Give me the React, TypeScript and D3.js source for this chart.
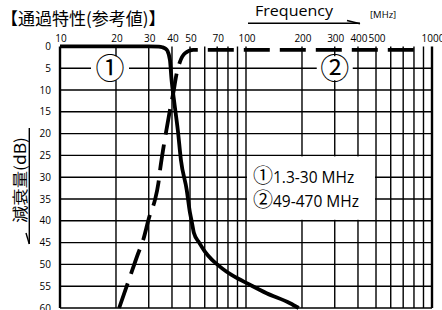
import React from "react";
import * as d3 from "d3";

const xTickValues = [10, 20, 30, 40, 50, 70, 100, 200, 300, 400, 500, 1000];
const xGridValues = [10, 20, 30, 40, 50, 60, 70, 80, 90, 100, 200, 300, 400, 500, 600, 700, 800, 900, 1000];
const yTickValues = [0, 5, 10, 15, 20, 25, 30, 35, 40, 45, 50, 55, 60];

// ① low-pass (solid)
const lowPassFreq = [10, 30, 34, 35.5, 36.8, 37.8, 39, 39.8, 41, 43, 44.7, 48, 50, 51, 52.5, 56, 60, 65.5, 70, 78.7, 91, 101, 129, 172.5, 192];
const lowPassDb = [0, 0, 0.05, 0.2, 0.5, 1.0, 3.1, 7.7, 12.3, 19.2, 26.1, 32.9, 38.2, 40, 42.8, 45, 47, 48.9, 50, 51.7, 53.3, 54.3, 56.6, 58.9, 60];

// ② high-pass (dashed)
const highPassFreq = [20.8, 23.8, 26.3, 28, 30.2, 32.4, 33.8, 34.6, 35.9, 37.4, 39, 40.6, 42.4, 44.2, 46.9, 52, 60, 820];
const highPassDb = [60, 52.8, 47.5, 44.4, 39.1, 35.2, 31.4, 28, 23.5, 19, 14.6, 10.8, 6.2, 3.5, 1.6, 0.8, 0.8, 0.8];

const legendLines = ["1.3-30 MHz", "49-470 MHz"];
const markers = ["①", "②"];

const W = 442;
const H = 310;

export default function App() {
  const x = d3.scaleLog().domain([10, 1000]).range([60, 432]);
  const y = d3.scaleLinear().domain([0, 60]).range([46.4, 308]);

  const line = d3
    .line<[number, number]>()
    .x((d) => x(d[0]))
    .y((d) => y(d[1]))
    .curve(d3.curveMonotoneX);

  const lowPts = lowPassFreq.map((f, i) => [f, lowPassDb[i]] as [number, number]);
  const highPts = highPassFreq.map((f, i) => [f, highPassDb[i]] as [number, number]);

  const font = "'Open Sans', 'Noto Sans', sans-serif";
  const cjk = "'Noto Sans CJK JP', sans-serif";
  const gridStroke = "#000";
  const gw = 1.4;

  const m1x = 110, m1y = y(5);
  const m2x = x(300), m2y = y(5);

  return (
    <svg width={W} height={H} style={{ position: "absolute", left: 0, top: 0, background: "#fff" }}>
      <rect x={0} y={0} width={W} height={H} fill="#fff" />
      {/* title */}
      <text x={1} y={25} fontFamily={cjk} fontSize={17} fontWeight={400} fill="#000">【通過特性(参考値)】</text>
      <text x={255} y={16} fontFamily={font} fontSize={15} fill="#000" textLength={78} lengthAdjust="spacingAndGlyphs">Frequency</text>
      <text x={370} y={18} fontFamily={font} fontSize={9.5} fill="#000">[MHz]</text>
      <line x1={248} y1={23.3} x2={360} y2={23.3} stroke="#000" strokeWidth={1.4} />
      <line x1={347} y1={20.5} x2={360} y2={23.8} stroke="#000" strokeWidth={1.4} />

      {/* y label */}
      <text transform="translate(26,180) rotate(-90)" textAnchor="middle" fontFamily={cjk} fontSize={15.5}
        textLength={86} lengthAdjust="spacingAndGlyphs" fill="#000">減衰量(dB)</text>
      <line x1={29.3} y1={128} x2={29.3} y2={244} stroke="#000" strokeWidth={1.4} />
      <line x1={26} y1={233} x2={29.3} y2={244} stroke="#000" strokeWidth={1.4} />

      {/* grid */}
      {yTickValues.filter((v) => v > 0).map((v) => (
        <line key={"h" + v} x1={x(10)} x2={x(1000)} y1={y(v)} y2={y(v)} stroke={gridStroke} strokeWidth={gw} />
      ))}
      {xGridValues.map((v) => (
        <line key={"v" + v} x1={x(v)} x2={x(v)} y1={y(0)} y2={y(60)} stroke={gridStroke}
          strokeWidth={v === 10 || v === 1000 ? 2.4 : gw} />
      ))}

      {/* tick labels */}
      {xTickValues.map((v) => (
        <text key={"xt" + v} x={x(v) + 1} y={41.5} textAnchor="middle" fontFamily={font} fontSize={10} fill="#000">{v}</text>
      ))}
      {yTickValues.map((v) => (
        <text key={"yt" + v} x={51} y={y(v)} dy="0.35em" textAnchor="end" fontFamily={font} fontSize={10} fill="#000">{v}</text>
      ))}

      {/* in-plot markers */}
      <rect x={m1x - 19} y={m1y - 12} width={38} height={24} fill="#fff" />
      <text x={m1x} y={m1y} dy="0.36em" textAnchor="middle" fontFamily={cjk} fontSize={29} fill="#000">{markers[0]}</text>
      <rect x={m2x - 18} y={m2y - 12} width={36} height={24} fill="#fff" />
      <text x={m2x} y={m2y} dy="0.36em" textAnchor="middle" fontFamily={cjk} fontSize={29} fill="#000">{markers[1]}</text>

      {/* legend box */}
      <rect x={x(100) + 1} y={y(25) + 1} width={x(500) - x(100) - 2} height={y(40) - y(25) - 2} fill="#fff" />
      <text x={253} y={182.5} fontFamily={font} fontSize={15.5} fill="#000">
        <tspan fontFamily={cjk} fontSize={20}>{markers[0]}</tspan>
        <tspan>{legendLines[0]}</tspan>
      </text>
      <text x={253} y={206.5} fontFamily={font} fontSize={15.5} fill="#000">
        <tspan fontFamily={cjk} fontSize={20}>{markers[1]}</tspan>
        <tspan>{legendLines[1]}</tspan>
      </text>

      {/* curves */}
      <path d={line(lowPts) || ""} fill="none" stroke="#000" strokeWidth={3.8} />
      <path d={line(highPts) || ""} fill="none" stroke="#000" strokeWidth={3.8} strokeDasharray="26,10" />
    </svg>
  );
}
